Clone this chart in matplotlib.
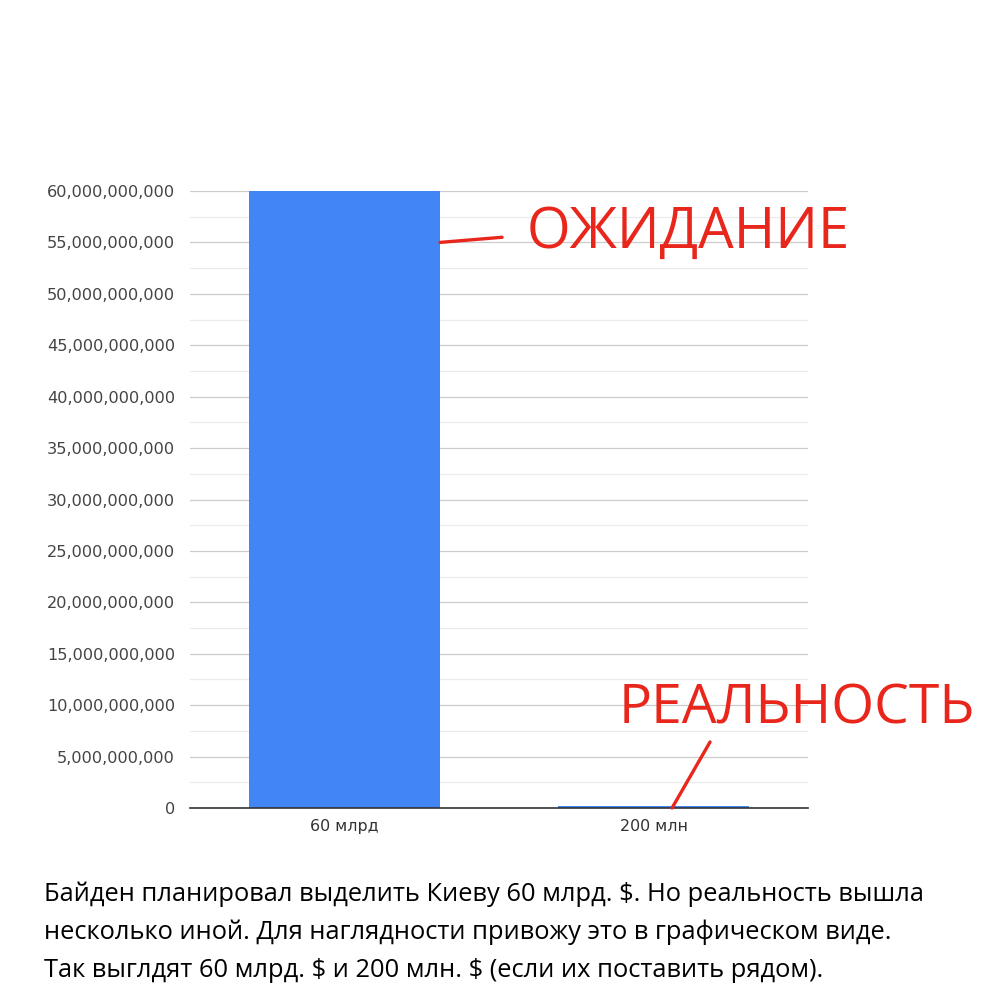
import matplotlib
matplotlib.use("Agg")
import matplotlib.pyplot as plt
from matplotlib.ticker import MultipleLocator, FuncFormatter

plt.rcParams["font.family"] = ["DejaVu Sans"]

# data
categories = ["60 млрд", "200 млн"]
values = [60_000_000_000, 200_000_000]
note_lines = [
    "Байден планировал выделить Киеву 60 млрд. $. Но реальность вышла",
    "несколько иной. Для наглядности привожу это в графическом виде.",
    "Так выглдят 60 млрд. $ и 200 млн. $ (если их поставить рядом).",
]

fig = plt.figure(figsize=(10, 10), dpi=100)
ax = fig.add_axes([0.19, 0.192, 0.618, 0.617])

x = range(len(categories))
ax.bar(x, values, width=0.615, color="#4285f4", zorder=3)

ax.set_xlim(-0.5, 1.5)
ax.set_ylim(0, 60e9)
ax.set_xticks(list(x))
ax.set_xticklabels(categories, fontsize=11.4, color="#333333")

ax.yaxis.set_major_locator(MultipleLocator(5e9))
ax.yaxis.set_minor_locator(MultipleLocator(2.5e9))
ax.yaxis.set_major_formatter(FuncFormatter(lambda v, p: f"{int(v):,}"))
ax.tick_params(axis="y", labelsize=11.6, labelcolor="#444444", length=0, pad=10.8)
ax.tick_params(axis="y", which="minor", length=0)
ax.tick_params(axis="x", length=0, pad=8)

ax.grid(axis="y", which="major", color="#cccccc", linewidth=0.9, zorder=0)
ax.grid(axis="y", which="minor", color="#ebebeb", linewidth=0.9, zorder=0)
for side in ["top", "right", "left"]:
    ax.spines[side].set_visible(False)
ax.spines["bottom"].set_color("#333333")
ax.spines["bottom"].set_linewidth(1.2)
ax.spines["bottom"].set_zorder(4)

# red callouts
red = "#e8261c"
ax.annotate("", xy=(0.309, 55.0e9), xytext=(0.51, 55.5e9),
            arrowprops=dict(arrowstyle="-", color=red, lw=2.4, shrinkA=0, shrinkB=0),
            zorder=5)
ax.annotate("", xy=(1.06, 0), xytext=(1.183, 6.42e9),
            arrowprops=dict(arrowstyle="-", color=red, lw=2.4, shrinkA=0, shrinkB=0),
            zorder=5, annotation_clip=False)
fig.text(0.527, 0.752, "ОЖИДАНИЕ", color=red, fontsize=40.5, family="Open Sans",
         va="baseline", ha="left")
fig.text(0.619, 0.276, "РЕАЛЬНОСТЬ", color=red, fontsize=39.7, family="Open Sans",
         va="baseline", ha="left")

# caption
for i, line in enumerate(note_lines):
    fig.text(0.044, 1 - (0.901 + 0.038 * i), line, fontsize=18.4,
             family="Open Sans", color="black", va="baseline", ha="left",
             parse_math=False)

fig.savefig("out.png", dpi=100, facecolor="white")
